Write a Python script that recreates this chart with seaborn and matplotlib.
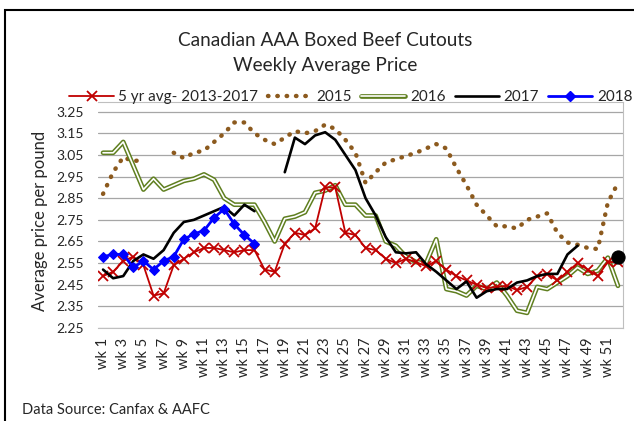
import numpy as np
import pandas as pd
import matplotlib
matplotlib.use("Agg")
import matplotlib.pyplot as plt
import seaborn as sns
from matplotlib.lines import Line2D
from matplotlib.patches import Rectangle

# dados semanais (preço médio, $/lb)
semanas = list(range(1, 53))
rotulos_semana = [f"wk {w}" for w in semanas]
nan = np.nan

media_5anos = [2.49, 2.51, 2.56, 2.58, 2.54, 2.40, 2.41, 2.54, 2.57, 2.60,
               2.62, 2.62, 2.61, 2.60, 2.61, 2.61, 2.52, 2.51, 2.64, 2.69,
               2.68, 2.71, 2.90, 2.90, 2.69, 2.68, 2.62, 2.61, 2.57, 2.55,
               2.57, 2.555, 2.535, 2.56, 2.52, 2.49, 2.47, 2.45, 2.435, 2.44,
               2.445, 2.425, 2.44, 2.49, 2.50, 2.47, 2.51, 2.55, 2.52, 2.49,
               2.555, 2.555]

ano_2015 = [2.87, 2.97, 3.04, 3.02, 3.03, nan, nan, 3.06, 3.035, 3.06,
            3.07, 3.11, 3.15, 3.20, 3.20, 3.15, 3.12, 3.10, 3.13, 3.16,
            3.15, 3.16, 3.19, 3.17, 3.12, 3.06, 2.92, 2.97, 3.015, 3.03,
            3.045, 3.06, 3.08, 3.10, 3.08, 2.99, 2.91, 2.82, 2.77, 2.72,
            2.72, 2.71, 2.75, 2.765, 2.78, 2.69, 2.645, 2.635, 2.62, 2.615,
            2.83, 2.92]

ano_2016 = [3.06, 3.06, 3.11, 3.00, 2.89, 2.94, 2.89, 2.91, 2.93, 2.94,
            2.96, 2.935, 2.85, 2.82, 2.82, 2.82, 2.74, 2.65, 2.755, 2.765,
            2.785, 2.875, 2.885, 2.91, 2.82, 2.82, 2.77, 2.77, 2.65, 2.63,
            2.58, 2.555, 2.55, 2.66, 2.43, 2.42, 2.40, 2.445, 2.43, 2.46,
            2.40, 2.33, 2.32, 2.44, 2.43, 2.46, 2.49, 2.53, 2.50, 2.515,
            2.575, 2.445]

ano_2017 = [2.52, 2.48, 2.49, 2.56, 2.59, 2.57, 2.61, 2.69, 2.74, 2.75,
            2.77, 2.79, 2.81, 2.77, 2.82, 2.79, nan, nan, 2.97, 3.13,
            3.10, 3.14, 3.155, 3.12, 3.05, 2.98, 2.85, 2.77, 2.67, 2.60,
            2.595, 2.60, 2.545, 2.51, 2.47, 2.43, 2.465, 2.39, 2.42, 2.43,
            2.43, 2.46, 2.47, 2.49, 2.50, 2.50, 2.59, 2.63, nan, nan,
            nan, 2.58]

ano_2018 = [2.58, 2.59, 2.59, 2.53, 2.56, 2.52, 2.56, 2.58, 2.66, 2.685,
            2.70, 2.76, 2.80, 2.73, 2.68, 2.64] + [nan] * 36

cor_media = '#C00000'
cor_2015 = '#8C5A1E'
cor_2016 = '#5F7F1F'
cor_2017 = '#000000'
cor_2018 = '#0000FF'

estilo_pontos = (0, (0.1, 2.0))


def segmentos(valores):
    """DataFrame sem NaN, com um id de segmento para quebrar a linha nas falhas."""
    df = pd.DataFrame({'semana': semanas, 'preco': valores})
    df['seg'] = df['preco'].isna().cumsum()
    df = df.dropna()
    tamanho = df.groupby('seg')['preco'].transform('size')
    return df, df[tamanho == 1]


sns.set_style('white')
plt.rcParams['font.family'] = ['Lato', 'DejaVu Sans']

fig = plt.figure(figsize=(6.34, 4.21), dpi=100)
ax = fig.add_axes([98 / 634, 1 - 328 / 421, 525 / 634, 226.3 / 421])

# 2015 - pontilhado
df, _ = segmentos(ano_2015)
sns.lineplot(data=df, x='semana', y='preco', units='seg', estimator=None,
             color=cor_2015, lw=3.2, linestyle=estilo_pontos,
             dash_capstyle='round', ax=ax)

# 2016 - linha dupla (verde com miolo branco)
df, _ = segmentos(ano_2016)
sns.lineplot(data=df, x='semana', y='preco', units='seg', estimator=None,
             color=cor_2016, lw=3.4, ax=ax)
sns.lineplot(data=df, x='semana', y='preco', units='seg', estimator=None,
             color='white', lw=1.2, ax=ax)

# média de 5 anos
df, _ = segmentos(media_5anos)
sns.lineplot(data=df, x='semana', y='preco', units='seg', estimator=None,
             color=cor_media, lw=1.3, marker='x', markersize=6.5,
             markeredgewidth=1.3, markeredgecolor=cor_media, ax=ax)

# 2017
df, isolados = segmentos(ano_2017)
sns.lineplot(data=df, x='semana', y='preco', units='seg', estimator=None,
             color=cor_2017, lw=1.9, ax=ax)
sns.scatterplot(data=isolados, x='semana', y='preco', color=cor_2017,
                s=90, edgecolor=cor_2017, ax=ax, zorder=5, clip_on=False)

# 2018
df, _ = segmentos(ano_2018)
sns.lineplot(data=df, x='semana', y='preco', units='seg', estimator=None,
             color=cor_2018, lw=2.0, marker='D', markersize=5.5,
             markeredgecolor=cor_2018, ax=ax)

# eixos
ax.set_xlim(0.5, 52.5)
ax.set_ylim(2.25, 3.296)
ax.set_yticks(np.arange(2.25, 3.26, 0.1))
ax.set_yticklabels([f"{v:.2f}" for v in np.arange(2.25, 3.26, 0.1)], fontsize=10)
ax.set_xticks(semanas[::2])
ax.set_xticklabels(rotulos_semana[::2], rotation=90, fontsize=10.5)
ax.set_xticks(np.arange(0.5, 53, 1), minor=True)
ax.tick_params(axis='x', which='major', length=0, pad=7)
ax.tick_params(axis='x', which='minor', length=5, color='#bfbfbf', direction='out')
ax.tick_params(axis='y', length=0, pad=10)
ax.set_xlabel('')
ax.set_ylabel('')
ax.yaxis.grid(True, color='#a6a6a6', lw=0.9)
ax.set_axisbelow(True)
for lado in ['top', 'right', 'bottom']:
    ax.spines[lado].set_color('#bfbfbf')
    ax.spines[lado].set_linewidth(0.8)
ax.spines['left'].set_visible(False)

# títulos e textos
fig.text(325 / 634, 1 - 40 / 421, 'Canadian AAA Boxed Beef Cutouts',
         ha='center', va='center', fontsize=13.7)
fig.text(325 / 634, 1 - 66 / 421, 'Weekly Average Price',
         ha='center', va='center', fontsize=13.7)
fig.text(40 / 634, 1 - 221 / 421, 'Average price per pound', rotation=90,
         ha='center', va='center', fontsize=12)
fig.text(22 / 634, 1 - 410 / 421, 'Data Source: Canfax & AAFC',
         ha='left', va='center', fontsize=10.5)

# legenda
alcas = [
    Line2D([], [], color=cor_media, lw=1.3, marker='x', markersize=6.5, markeredgewidth=1.3),
    Line2D([], [], color=cor_2015, lw=3.2, linestyle=estilo_pontos, dash_capstyle='round'),
    (Line2D([], [], color=cor_2016, lw=3.4), Line2D([], [], color='white', lw=1.2)),
    Line2D([], [], color=cor_2017, lw=1.9),
    Line2D([], [], color=cor_2018, lw=2.0, marker='D', markersize=5.5),
]
rotulos = ['5 yr avg- 2013-2017', '2015', '2016', '2017', '2018']
fig.legend(alcas, rotulos, loc='center', bbox_to_anchor=(351 / 634, 1 - 97 / 421),
           ncol=5, frameon=False, fontsize=11, handlelength=2.9,
           columnspacing=0.6, handletextpad=0.3)

# moldura do gráfico
fig.patches.append(Rectangle((5 / 634, -0.1), 1.2, 1.1 - 10 / 421,
                             transform=fig.transFigure, fill=False,
                             edgecolor='black', lw=1.5))

fig.savefig('out.png', dpi=100)
